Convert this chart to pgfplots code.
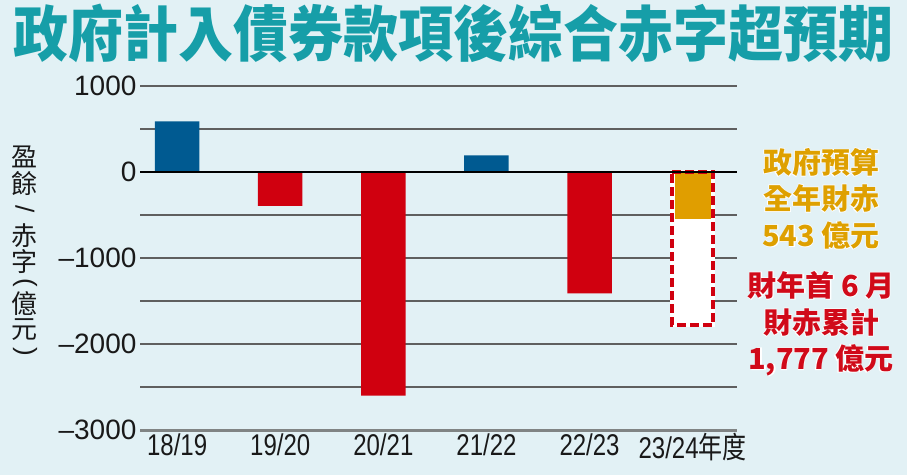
\documentclass[border=0pt]{standalone}
\usepackage{pgfplots}
\pgfplotsset{compat=1.18}
\usepackage{fontspec}
\setmainfont{Liberation Sans}
\newfontfamily\cjk{Noto Sans CJK TC}
\newfontfamily\cjkhalo[FakeBold=6]{Noto Sans CJK TC Bold}
\newfontfamily\condfont[FakeStretch=0.8]{Liberation Sans}
\newfontfamily\condcjk[FakeStretch=0.8]{Noto Sans CJK TC}
\definecolor{bgc}{RGB}{226,241,245}
\definecolor{titlec}{RGB}{22,158,168}
\definecolor{barblue}{RGB}{0,90,145}
\definecolor{barred}{RGB}{208,0,15}
\definecolor{barorange}{RGB}{224,158,0}
\definecolor{txtorange}{RGB}{222,160,0}
\definecolor{txtred}{RGB}{208,10,25}
\definecolor{gridc}{RGB}{95,95,95}
\definecolor{basec}{RGB}{128,132,132}
\newcommand\haloline[3]{%
 \node[text=white, font=\cjkhalo\fontsize{29}{29}\selectfont] at #1 {#3};
 \node[text=#2, font=\cjk\bfseries\fontsize{29}{29}\selectfont] at #1 {#3};}
\begin{document}
\begin{tikzpicture}
\fill[bgc] (0,0) rectangle (907pt,475pt);
\node[text=titlec, font=\cjk\bfseries\fontsize{55}{55}\selectfont, yscale=1.1] at (453.5pt,442pt) {政府計入債券款項後綜合赤字超預期};
\begin{scope}[font=\cjk\fontsize{26}{26}\selectfont, text=black!90, inner sep=0pt]
\node at (25pt,318pt) {盈};
\node at (25pt,291pt) {餘};
\node[font=\fontsize{26}{26}\selectfont, rotate=-90] at (25pt,266pt) {/};
\node at (25pt,239pt) {赤};
\node at (25pt,213pt) {字};
\node[font=\fontsize{26}{26}\selectfont, rotate=-90] at (25pt,192pt) {(};
\node at (25pt,171pt) {億};
\node at (25pt,145pt) {元};
\node[font=\fontsize{26}{26}\selectfont, rotate=-90] at (25pt,123pt) {)};
\end{scope}
\begin{axis}[
 at={(140pt,45pt)}, anchor=south west,
 scale only axis, width=597pt, height=344pt,
 xmin=-0.36, xmax=5.43, ymin=-3000, ymax=1000,
 axis line style={draw=none},
 major tick length=0pt, minor tick length=0pt,
 ytick={-3000,-2000,-1000,0,1000},
 yticklabels={–3000,–2000,–1000,0,1000},
 minor ytick={-2500,-1500,-500,500},
 ymajorgrids, yminorgrids,
 major grid style={draw=gridc, line width=1.2pt},
 minor grid style={draw=gridc, line width=1.2pt},
 xtick={0,...,5},
 xticklabels={18/19,19/20,20/21,21/22,22/23,23/24{\condcjk 年度}},
 yticklabel style={font=\fontsize{28}{28}\selectfont, anchor=east, text=black!90},
 xticklabel style={font=\condfont\fontsize{30}{30}\selectfont, anchor=north, text=black!90},
 clip=false,
]
\addplot[ybar, bar width=44.5pt, fill=barblue, draw=none] coordinates {(0,590) (3,194)};
\addplot[ybar, bar width=44.5pt, fill=barred, draw=none] coordinates {(1,-395) (2,-2601) (4,-1410)};
\addplot[ybar, bar width=41pt, fill=white, draw=white, line width=4pt] coordinates {(5,-1777)};
\addplot[ybar, bar width=36pt, fill=barorange, draw=none] coordinates {(5,-543)};
\addplot[ybar, bar width=41pt, fill=none, draw=barred, line width=4pt, dash pattern=on 9pt off 4pt] coordinates {(5,-1777)};
\draw[black, line width=2.5pt] (axis cs:-0.36,0) -- (axis cs:5.43,0);
\draw[basec, line width=3pt] (axis cs:-0.36,-3000) -- (axis cs:5.43,-3000);
\end{axis}
\haloline{(821pt,313pt)}{txtorange}{政府預算}
\haloline{(821pt,277pt)}{txtorange}{全年財赤}
\haloline{(821pt,240pt)}{txtorange}{543 億元}
\haloline{(821pt,190pt)}{txtred}{財年首 6 月}
\haloline{(821pt,153pt)}{txtred}{財赤累計}
\haloline{(821pt,115pt)}{txtred}{1,777 億元}
\pgfresetboundingbox
\path (0,0) rectangle (907pt,475pt);
\end{tikzpicture}
\end{document}
